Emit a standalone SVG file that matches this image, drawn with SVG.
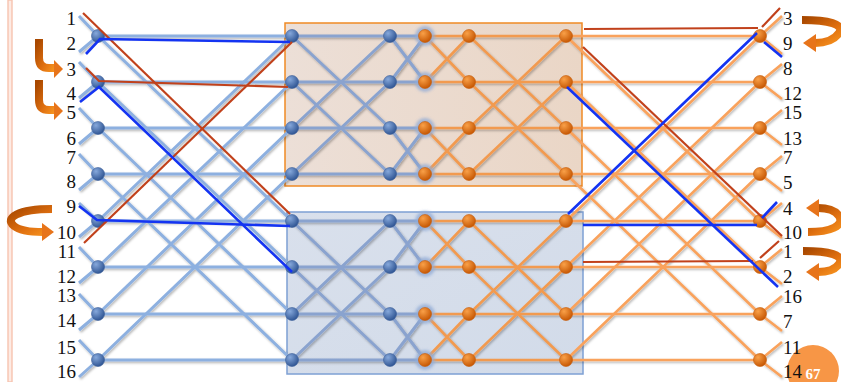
<svg xmlns="http://www.w3.org/2000/svg" width="841" height="382" viewBox="0 0 841 382">
<defs>
<filter id="sh" x="-5%" y="-5%" width="110%" height="110%"><feDropShadow dx="1.2" dy="1.5" stdDeviation="0.9" flood-color="#000" flood-opacity="0.3"/></filter>
<filter id="blur" x="-50%" y="-50%" width="200%" height="200%"><feGaussianBlur stdDeviation="1.6"/></filter>
<radialGradient id="gB" cx="0.35" cy="0.3" r="0.75"><stop offset="0" stop-color="#86a8db"/><stop offset="1" stop-color="#2b5190"/></radialGradient>
<radialGradient id="gO" cx="0.35" cy="0.3" r="0.75"><stop offset="0" stop-color="#f9a048"/><stop offset="1" stop-color="#c45400"/></radialGradient>
<linearGradient id="gUp" x1="0" y1="0" x2="1" y2="0"><stop offset="0" stop-color="#ecdfd7"/><stop offset="1" stop-color="#ead6c6"/></linearGradient>
<linearGradient id="gLo" x1="0" y1="0" x2="1" y2="1"><stop offset="0" stop-color="#d9e0ec"/><stop offset="1" stop-color="#d2dbe9"/></linearGradient>
<linearGradient id="gA" x1="0" y1="0" x2="1" y2="1"><stop offset="0" stop-color="#a84800"/><stop offset="0.6" stop-color="#e07010"/><stop offset="1" stop-color="#f6921e"/></linearGradient>
</defs>
<style>
.lb{stroke:#8db0e0;stroke-width:3;fill:none}
.ib{stroke:#8aa3cf;stroke-width:3;fill:none}
.io{stroke:#f29a50;stroke-width:2.6;fill:none}
.ro{stroke:#f9a25c;stroke-width:2.6;fill:none}
.hr{stroke:#c1411b;stroke-width:2.2;fill:none}
.hb{stroke:#1434f2;stroke-width:2.6;fill:none}
.nb{fill:url(#gB);stroke:#3a5e98;stroke-width:0.6}
.no{fill:url(#gO);stroke:#c65a08;stroke-width:0.6}
.halo{fill:#93acd6;opacity:0.8;filter:url(#blur)}
.t{font-family:"Liberation Serif","DejaVu Serif",serif;font-size:19px;fill:#111}
.arr{fill:none;stroke:url(#gA);stroke-width:8}
.ah{fill:#e7741a}
</style>
<rect x="0" y="0" width="841" height="382" fill="#ffffff"/>
<rect x="8" y="0" width="4" height="382" fill="#fdebe4" stroke="#f7c4b0" stroke-width="1.4"/>

<g id="boxes">
<rect x="285" y="23" width="297" height="163" fill="url(#gUp)" stroke="#f08a24" stroke-width="1.5"/>
<rect x="287" y="212" width="296" height="162" fill="url(#gLo)" stroke="#7ea0d4" stroke-width="1.5"/>
</g>

<g id="connectors" filter="url(#sh)">
<g class="lb">
<path d="M79,16L98,36M79,52L98,36M79,62L98,82M79,98L98,82M79,108L98,128M79,144L98,128M79,154L98,174M79,190L98,174M79,203L98,221M79,237L98,221M79,247L98,267M79,283L98,267M79,294L98,314M79,330L98,314M79,340L98,360M79,377L98,360"/>
<path d="M98,36H292M98,82H292M98,128H292M98,174H292M98,221H292M98,267H292M98,314H292M98,360H292"/>
<path d="M98,36L292,221M98,82L292,267M98,128L292,314M98,174L292,360M98,221L292,36M98,267L292,82M98,314L292,128M98,360L292,174"/>
</g>
<g class="ib">
<path d="M292,36H425M292,82H425M292,128H425M292,174H425M292,221H425M292,267H425M292,314H425M292,360H425"/>
<path d="M292,36L390,128M292,82L390,174M292,128L390,36M292,174L390,82M390,36L425,82M390,82L425,36M390,128L425,174M390,174L425,128"/>
<path d="M292,221L390,314M292,267L390,360M292,314L390,221M292,360L390,267M390,221L425,267M390,267L425,221M390,314L425,360M390,360L425,314"/>
</g>
<g class="io">
<path d="M425,36H566M425,82H566M425,128H566M425,174H566M425,221H566M425,267H566M425,314H566M425,360H566"/>
<path d="M425,36L469,82M425,82L469,36M425,128L469,174M425,174L469,128M469,36L566,128M469,82L566,174M469,128L566,36M469,174L566,82"/>
<path d="M425,221L469,267M425,267L469,221M425,314L469,360M425,360L469,314M469,221L566,314M469,267L566,360M469,314L566,221M469,360L566,267"/>
</g>
<g class="ro">
<path d="M566,36H760M566,82H760M566,128H760M566,174H760M566,221H760M566,267H760M566,314H760M566,360H760"/>
<path d="M566,36L760,221M566,82L760,267M566,128L760,314M566,174L760,360M566,221L760,36M566,267L760,82M566,314L760,128M566,360L760,174"/>
<path d="M760,36L782,16M760,36L782,54M760,82L782,64M760,82L782,99M760,128L782,110M760,128L782,145M760,174L782,156M760,174L782,191M760,221L782,203M760,221L782,238M760,267L782,249M760,267L782,284M760,314L782,296M760,314L782,331M760,360L782,342M760,360L782,377"/>
</g>
</g>

<g id="nodes">
<g id="L0"><circle class="nb" cx="98" cy="36" r="6.5"/></g>
<g id="L1"><circle class="nb" cx="98" cy="82" r="6.5"/></g>
<g id="L2"><circle class="nb" cx="98" cy="128" r="6.5"/></g>
<g id="L3"><circle class="nb" cx="98" cy="174" r="6.5"/></g>
<g id="L4"><circle class="nb" cx="98" cy="221" r="6.5"/></g>
<g id="L5"><circle class="nb" cx="98" cy="267" r="6.5"/></g>
<g id="L6"><circle class="nb" cx="98" cy="314" r="6.5"/></g>
<g id="L7"><circle class="nb" cx="98" cy="360" r="6.5"/></g>

<g id="U0a"><circle class="nb" cx="292" cy="36" r="6.5"/></g>
<g id="U1a"><circle class="nb" cx="292" cy="82" r="6.5"/></g>
<g id="U2a"><circle class="nb" cx="292" cy="128" r="6.5"/></g>
<g id="U3a"><circle class="nb" cx="292" cy="174" r="6.5"/></g>
<g id="U0b"><circle class="nb" cx="390" cy="36" r="6.5"/></g>
<g id="U1b"><circle class="nb" cx="390" cy="82" r="6.5"/></g>
<g id="U2b"><circle class="nb" cx="390" cy="128" r="6.5"/></g>
<g id="U3b"><circle class="nb" cx="390" cy="174" r="6.5"/></g>
<g id="U0c"><circle class="halo" cx="425" cy="36" r="10"/><circle class="no" cx="425" cy="36" r="6.5"/></g>
<g id="U1c"><circle class="halo" cx="425" cy="82" r="10"/><circle class="no" cx="425" cy="82" r="6.5"/></g>
<g id="U2c"><circle class="halo" cx="425" cy="128" r="10"/><circle class="no" cx="425" cy="128" r="6.5"/></g>
<g id="U3c"><circle class="halo" cx="425" cy="174" r="10"/><circle class="no" cx="425" cy="174" r="6.5"/></g>
<g id="U0d"><circle class="no" cx="469" cy="36" r="6.5"/></g>
<g id="U1d"><circle class="no" cx="469" cy="82" r="6.5"/></g>
<g id="U2d"><circle class="no" cx="469" cy="128" r="6.5"/></g>
<g id="U3d"><circle class="no" cx="469" cy="174" r="6.5"/></g>
<g id="U0e"><circle class="no" cx="566" cy="36" r="6.5"/></g>
<g id="U1e"><circle class="no" cx="566" cy="82" r="6.5"/></g>
<g id="U2e"><circle class="no" cx="566" cy="128" r="6.5"/></g>
<g id="U3e"><circle class="no" cx="566" cy="174" r="6.5"/></g>

<g id="D0a"><circle class="nb" cx="292" cy="221" r="6.5"/></g>
<g id="D1a"><circle class="nb" cx="292" cy="267" r="6.5"/></g>
<g id="D2a"><circle class="nb" cx="292" cy="314" r="6.5"/></g>
<g id="D3a"><circle class="nb" cx="292" cy="360" r="6.5"/></g>
<g id="D0b"><circle class="nb" cx="390" cy="221" r="6.5"/></g>
<g id="D1b"><circle class="nb" cx="390" cy="267" r="6.5"/></g>
<g id="D2b"><circle class="nb" cx="390" cy="314" r="6.5"/></g>
<g id="D3b"><circle class="nb" cx="390" cy="360" r="6.5"/></g>
<g id="D0c"><circle class="halo" cx="425" cy="221" r="10"/><circle class="no" cx="425" cy="221" r="6.5"/></g>
<g id="D1c"><circle class="halo" cx="425" cy="267" r="10"/><circle class="no" cx="425" cy="267" r="6.5"/></g>
<g id="D2c"><circle class="halo" cx="425" cy="314" r="10"/><circle class="no" cx="425" cy="314" r="6.5"/></g>
<g id="D3c"><circle class="halo" cx="425" cy="360" r="10"/><circle class="no" cx="425" cy="360" r="6.5"/></g>
<g id="D0d"><circle class="no" cx="469" cy="221" r="6.5"/></g>
<g id="D1d"><circle class="no" cx="469" cy="267" r="6.5"/></g>
<g id="D2d"><circle class="no" cx="469" cy="314" r="6.5"/></g>
<g id="D3d"><circle class="no" cx="469" cy="360" r="6.5"/></g>
<g id="D0e"><circle class="no" cx="566" cy="221" r="6.5"/></g>
<g id="D1e"><circle class="no" cx="566" cy="267" r="6.5"/></g>
<g id="D2e"><circle class="no" cx="566" cy="314" r="6.5"/></g>
<g id="D3e"><circle class="no" cx="566" cy="360" r="6.5"/></g>

<g id="R0"><circle class="no" cx="760" cy="36" r="6.5"/></g>
<g id="R1"><circle class="no" cx="760" cy="82" r="6.5"/></g>
<g id="R2"><circle class="no" cx="760" cy="128" r="6.5"/></g>
<g id="R3"><circle class="no" cx="760" cy="174" r="6.5"/></g>
<g id="R4"><circle class="no" cx="760" cy="221" r="6.5"/></g>
<g id="R5"><circle class="no" cx="760" cy="267" r="6.5"/></g>
<g id="R6"><circle class="no" cx="760" cy="314" r="6.5"/></g>
<g id="R7"><circle class="no" cx="760" cy="360" r="6.5"/></g>
</g>

<g id="highlights">
<path class="hr" d="M83,13L290,214"/>
<path class="hr" d="M86,68L99,81L288,87"/>
<path class="hr" d="M84,243L292,42"/>
<path class="hr" d="M584,29L758,28M762,27L780,8"/>
<path class="hr" d="M583,47L782,236"/>
<path class="hr" d="M583,262L753,261M760,258L779,241"/>
<path class="hb" d="M86,54L100,39L290,42"/>
<path class="hb" d="M80,102L99,87L292,272"/>
<path class="hb" d="M79,206L97,220L290,226"/>
<path class="hb" d="M567,87L778,287"/>
<path class="hb" d="M568,214L757,33M764,42L782,57"/>
<path class="hb" d="M583,225L757,225M762,218L777,202"/>
</g>

<g id="arrows">
<path class="arr" d="M39,39V58Q39,68 49,68H55"/>
<polygon class="ah" points="54,60 63,69 54,78"/>
<path class="arr" d="M39,80V100Q39,110 49,110H55"/>
<polygon class="ah" points="54,102 63,111 54,120"/>
<path class="arr" d="M52,209C18,209 4,218 14,226C20,231 30,232 43,232"/>
<polygon class="ah" points="42,223 54,232 42,241"/>
<path class="arr" d="M802,20C828,20 845,24 839,33C835,39 827,43 815,43"/>
<polygon class="ah" points="816,34 803,43 816,52"/>
<path class="arr" d="M808,232C830,232 845,226 839,216C835,210 828,208 818,208"/>
<polygon class="ah" points="819,199 806,208 819,217"/>
<path class="arr" d="M803,251C829,251 845,255 839,264C835,270 828,272 818,272"/>
<polygon class="ah" points="819,263 806,272 819,281"/>
</g>

<g id="page">
<circle cx="813" cy="371" r="26" fill="#f79646"/>
<text x="813" y="379" font-family="Liberation Serif, serif" font-size="15" font-weight="bold" fill="#ffffff" text-anchor="middle">67</text>
</g>

<g id="labels-left" class="t" text-anchor="end">
<text x="76" y="25">1</text>
<text x="76" y="50">2</text>
<text x="76" y="76">3</text>
<text x="76" y="100">4</text>
<text x="76" y="119">5</text>
<text x="76" y="145">6</text>
<text x="76" y="164">7</text>
<text x="76" y="188">8</text>
<text x="76" y="213">9</text>
<text x="76" y="239">10</text>
<text x="76" y="258">11</text>
<text x="76" y="283">12</text>
<text x="76" y="302">13</text>
<text x="76" y="327">14</text>
<text x="76" y="354">15</text>
<text x="76" y="378">16</text>
</g>
<g id="labels-right" class="t">
<text x="783" y="25">3</text>
<text x="783" y="50">9</text>
<text x="783" y="75">8</text>
<text x="783" y="100">12</text>
<text x="783" y="119">15</text>
<text x="783" y="145">13</text>
<text x="783" y="164">7</text>
<text x="783" y="189">5</text>
<text x="783" y="215">4</text>
<text x="783" y="239">10</text>
<text x="783" y="258">1</text>
<text x="783" y="283">2</text>
<text x="783" y="303">16</text>
<text x="783" y="328">7</text>
<text x="783" y="354">11</text>
<text x="783" y="378">14</text>
</g>
</svg>
